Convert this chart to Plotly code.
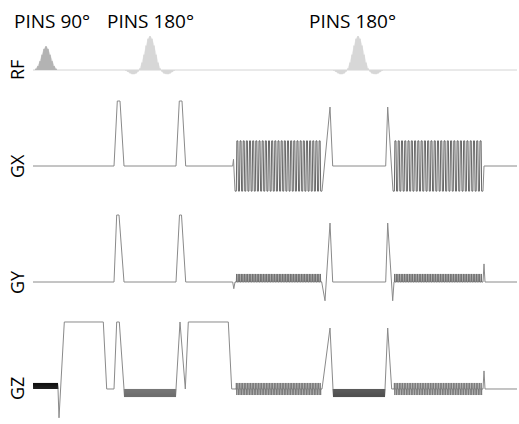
import plotly.graph_objects as go

# ---------------- data (time in arbitrary units 0..484) ----------------
T_END = 484

# RF sub-pulse amplitudes (relative to 180° peak)
RF90_CENTER = 13
RF90_STEP = 2
RF90_AMPS = [0.04, 0.12, 0.26, 0.45, 0.62, 0.70, 0.62, 0.45, 0.26, 0.12, 0.04]
RF180_CENTERS = [117, 325]
RF180_STEP = 2
RF180_AMPS = [-0.02, -0.06, -0.10, -0.12, -0.12, -0.10, -0.05, 0.05, 0.22, 0.45,
              0.72, 0.92, 1.0, 0.92, 0.72, 0.45, 0.22, 0.05, -0.05, -0.10,
              -0.12, -0.12, -0.10, -0.06, -0.02]
PULSE_LABELS = ["PINS 90°", "PINS 180°", "PINS 180°"]
PULSE_LABEL_T = [18.5, 117, 319.5]

# EPI readout
READOUT_WINDOWS = [(202, 289), (360, 450)]
READOUT_LOBES = 55
GX_READOUT_AMP = 0.375
GY_BLIP_AMP = 0.12
GZ_BLIP_AMP = 0.09

# PINS blip trains on GZ: (start, end, amplitude, count)
GZ_PINS_TRAINS = [(0, 25, 0.09, 25), (91, 143, -0.12, 52), (300, 352, -0.12, 52)]
GZ_TRAIN_COLORS = ["#111111", "#6e6e6e", "#505050"]

# gradient breakpoints (time, amplitude)
GX_PRE = [(0, 0), (81, 0), (84.3, 0.97), (87, 0.97), (91, 0), (143, 0), (146.3, 0.97),
          (149, 0.97), (152.7, 0), (199.7, 0), (200.5, 0.1), (202, -0.375)]
GX_MID = [(289, -0.375), (297, 0.88), (299.7, 0), (352.7, 0), (354.7, 0.88), (360, -0.375)]
GX_POST = [(450, -0.375), (451, 0), (484, 0)]

GY_PRE = [(0, 0), (81, 0), (83.7, 1.0), (86, 1.0), (91, 0), (143, 0), (146.5, 1.0),
          (148.5, 1.0), (152.7, 0), (199.7, 0), (200.8, -0.1), (202, 0)]
GY_MID = [(288.7, 0), (292, -0.28), (297, 0.88), (299.7, 0), (352.7, 0), (354.7, 0.88),
          (359.7, -0.28), (361, 0)]
GY_POST = [(450, 0), (451, 0.27), (452, 0), (484, 0)]

GZ_SEG1 = [(25, 0), (26, -0.43), (31.3, 1.0), (70.3, 1.0), (73.7, 0), (81, 0),
           (83.7, 1.0), (86.3, 1.0), (91, 0)]
GZ_SEG2 = [(143, 0), (147, 1.0), (152.3, 0), (155.3, 1.0), (195.3, 1.0), (198.7, 0), (202, 0)]
GZ_SEG3 = [(289, 0), (297, 0.91), (300, 0)]
GZ_SEG4 = [(352, 0), (354.7, 0.91), (358.7, 0), (360, 0)]
GZ_SEG5 = [(450, 0), (451, 0.27), (452, 0), (484, 0)]

CHANNELS = ["RF", "GX", "GY", "GZ"]

# ---------------- layout helpers ----------------
W, H = 519, 424
ML, MR = 33, 2
PLOT_W = W - ML - MR
BASE_PX = {"RF": 70, "GX": 166, "GY": 282, "GZ": 389}
SCALE_PX = {"RF": 34, "GX": 67, "GY": 67, "GZ": 67}
YR = {"RF": (-0.4, 1.3), "GX": (-0.5, 1.1), "GY": (-0.5, 1.1), "GZ": (-0.5, 1.1)}
AX = {"RF": "y", "GX": "y2", "GY": "y3", "GZ": "y4"}
LABEL_X_PX = 17
TITLE_Y_PX = 21

LINE = "#8a8a8a"


def readout(a, b, n, amp):
    d = (b - a) / n
    r = 0.35 * d
    xs, ys = [], []
    for k in range(n):
        s = a + k * d + (r / 2 if k > 0 else 0)
        e = a + (k + 1) * d - (r / 2 if k < n - 1 else 0)
        lv = -amp if k % 2 == 0 else amp
        xs += [s, e]
        ys += [lv, lv]
    centers = [a + (k + 1) * d for k in range(n - 1)]
    return xs, ys, centers


def blips(centers, amp, bipolar=False):
    xs, ys = [], []
    for c in centers:
        if bipolar:
            xs += [c - 0.45, c - 0.25, c + 0.25, c + 0.45]
            ys += [0, amp, -amp, 0]
        else:
            xs += [c - 0.25, c, c + 0.25]
            ys += [0, amp, 0]
    return xs, ys


def train(a, b, amp, n):
    step = (b - a) / n
    xs, ys = [], []
    for k in range(n):
        xs += [a + k * step, a + (k + 0.5) * step]
        ys += [0, amp]
    xs.append(b)
    ys.append(0)
    return xs, ys


def pts(lst):
    return [p[0] for p in lst], [p[1] for p in lst]


fig = go.Figure()


def add_line(xs, ys, ch, color=LINE, width=1):
    fig.add_trace(go.Scatter(x=xs, y=ys, mode="lines", yaxis=AX[ch], xaxis="x",
                             line=dict(color=color, width=width, simplify=False),
                             hoverinfo="skip", showlegend=False))


# ---- RF ----
add_line([0, T_END], [0, 0], "RF", color="#d4d4d4")


def rf_pulse(center, step, amps, fill, lc):
    n = len(amps)
    ts = [center + (i - (n - 1) / 2) * step for i in range(n)]
    ex = [ts[0] - step / 2] + ts + [ts[-1] + step / 2]
    ey = [0] + amps + [0]
    fig.add_trace(go.Scatter(x=ex, y=ey, mode="lines", fill="tozeroy", fillcolor=fill,
                             yaxis="y", line=dict(color=fill, width=0.5),
                             hoverinfo="skip", showlegend=False))
    vx, vy = [], []
    for t, a in zip(ts, amps):
        vx += [t, t, None]
        vy += [0, a, None]
    add_line(vx, vy, "RF", color=lc, width=1)


rf_pulse(RF90_CENTER, RF90_STEP, RF90_AMPS, "#c8c8c8", "#9e9e9e")
for c in RF180_CENTERS:
    rf_pulse(c, RF180_STEP, RF180_AMPS, "#e2e2e2", "#cccccc")

# ---- GX ----
gx_x, gx_y = pts(GX_PRE)
r1x, r1y, c1 = readout(*READOUT_WINDOWS[0], READOUT_LOBES, GX_READOUT_AMP)
r2x, r2y, c2 = readout(*READOUT_WINDOWS[1], READOUT_LOBES, GX_READOUT_AMP)
mx, my = pts(GX_MID)
px_, py_ = pts(GX_POST)
add_line(gx_x, gx_y, "GX")
add_line(r1x, r1y, "GX", color="#666666")
add_line(mx, my, "GX")
add_line(r2x, r2y, "GX", color="#666666")
add_line(px_, py_, "GX")

# ---- GY ----
ax_, ay_ = pts(GY_PRE)
add_line(ax_, ay_, "GY")
b1x, b1y = blips(c1, GY_BLIP_AMP)
add_line([READOUT_WINDOWS[0][0]] + b1x + [READOUT_WINDOWS[0][1]],
         [0] + b1y + [0], "GY", color="#707070")
ax_, ay_ = pts(GY_MID)
add_line(ax_, ay_, "GY")
b2x, b2y = blips(c2, GY_BLIP_AMP)
add_line([361] + b2x + [READOUT_WINDOWS[1][1]], [0] + b2y + [0], "GY", color="#707070")
ax_, ay_ = pts(GY_POST)
add_line(ax_, ay_, "GY")

# ---- GZ ----
for (a, b, amp, n), col in zip(GZ_PINS_TRAINS, GZ_TRAIN_COLORS):
    tx, ty = train(a, b, amp, n)
    add_line(tx, ty, "GZ", color=col)
for seg in [GZ_SEG1, GZ_SEG2, GZ_SEG3, GZ_SEG4, GZ_SEG5]:
    sx, sy = pts(seg)
    add_line(sx, sy, "GZ")
z1x, z1y = blips(c1, GZ_BLIP_AMP, bipolar=True)
add_line([READOUT_WINDOWS[0][0]] + z1x + [READOUT_WINDOWS[0][1]], [0] + z1y + [0], "GZ",
         color="#7a7a7a")
z2x, z2y = blips(c2, GZ_BLIP_AMP, bipolar=True)
add_line([READOUT_WINDOWS[1][0]] + z2x + [READOUT_WINDOWS[1][1]], [0] + z2y + [0], "GZ",
         color="#7a7a7a")

# ---------------- axes ----------------
layout_axes = {}
for ch in CHANNELS:
    lo, hi = YR[ch]
    s = SCALE_PX[ch]
    top_px = BASE_PX[ch] - hi * s
    bot_px = BASE_PX[ch] - lo * s
    dom = [max(0.0, 1 - bot_px / H), min(1.0, 1 - top_px / H)]
    name = "yaxis" if AX[ch] == "y" else "yaxis" + AX[ch][1:]
    layout_axes[name] = dict(domain=dom, range=[lo, hi], visible=False, fixedrange=True,
                             anchor="x")

FONT = "Open Sans"
annotations = []
for ch in CHANNELS:
    annotations.append(dict(text=ch, x=(LABEL_X_PX - ML) / PLOT_W, xref="paper",
                            y=1 - BASE_PX[ch] / H, yref="paper",
                            showarrow=False, textangle=-90,
                            font=dict(family=FONT, size=18, color="#000"),
                            xanchor="center", yanchor="middle"))
for lab, t in zip(PULSE_LABELS, PULSE_LABEL_T):
    annotations.append(dict(text=lab, x=t / T_END, xref="paper",
                            y=1 - TITLE_Y_PX / H, yref="paper",
                            showarrow=False, font=dict(family=FONT, size=19, color="#000"),
                            xanchor="center", yanchor="middle"))

fig.update_layout(
    width=W, height=H,
    margin=dict(l=ML, r=MR, t=0, b=0),
    paper_bgcolor="white", plot_bgcolor="white",
    xaxis=dict(domain=[0, 1], range=[0, T_END], visible=False, fixedrange=True),
    annotations=annotations,
    showlegend=False,
    **layout_axes,
)

fig.write_html("out.html", config={"displayModeBar": False},
               post_script="document.body.style.margin='0';document.body.style.padding='0';")
